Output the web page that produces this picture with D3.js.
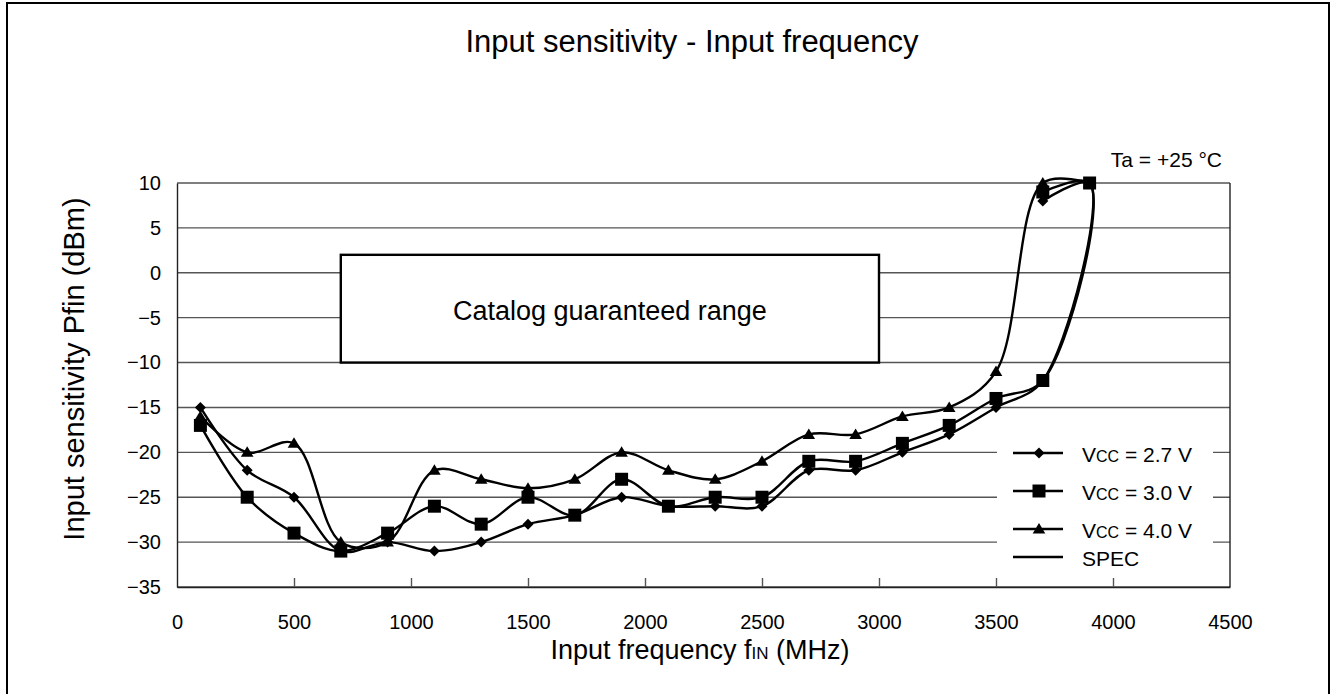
<!DOCTYPE html>
<html>
  <head>
    <meta charset="utf-8">
    <script src="https://d3js.org/d3.v7.min.js"></script>
    <style>
      body { margin: 0; background: #fff; }
      text { font-family: "Liberation Sans", Arial, sans-serif; fill: #000; }
    </style>
  </head>
  <body>
    <script type="text/javascript">

// frequency (MHz) of each measured point, in drawing order
var freqs   = [100, 300, 500, 700, 900, 1100, 1300, 1500, 1700, 1900, 2100, 2300, 2500, 2700, 2900, 3100, 3300, 3500, 3700, 3900, 3700];
var freqs40 = [100, 300, 500, 700, 900, 1100, 1300, 1500, 1700, 1900, 2100, 2300, 2500, 2700, 2900, 3100, 3300, 3500, 3700, 3900];

var vcc27 = [-15, -22, -25, -31, -30, -31, -30, -28, -27, -25, -26, -26, -26, -22, -22, -20, -18, -15, -12, 10, 8];
var vcc30 = [-17, -25, -29, -31, -29, -26, -28, -25, -27, -23, -26, -25, -25, -21, -21, -19, -17, -14, -12, 10, 9];
var vcc40 = [-16, -20, -19, -30, -30, -22, -23, -24, -23, -20, -22, -23, -21, -18, -18, -16, -15, -11, 10, 10];

// catalog guaranteed range (SPEC box)
var specFreq = [700, 3000];
var specPfin = [-10, 2];

var xTicks = d3.range(0, 4501, 500);
var yTicks = d3.range(-35, 11, 5);

var w = 1336, h = 694;

var svg = d3.select("body").append("svg")
    .attr("width", w)
    .attr("height", h);

// outer frame
svg.append("rect")
    .attr("x", 7).attr("y", 3)
    .attr("width", 1322).attr("height", 800)
    .attr("fill", "none")
    .attr("stroke", "#000")
    .attr("stroke-width", 2);

var x = d3.scaleLinear().domain([0, 4500]).range([177, 1230]);
var y = d3.scaleLinear().domain([-35, 10]).range([587, 183]);

// grid lines
svg.append("g").selectAll("line")
    .data(yTicks)
    .enter().append("line")
    .attr("x1", x(0)).attr("x2", x(4500))
    .attr("y1", function(d) { return y(d); })
    .attr("y2", function(d) { return y(d); })
    .attr("stroke", "#555")
    .attr("stroke-width", 1.4);

// plot border
svg.append("line")
    .attr("x1", x(4500)).attr("x2", x(4500))
    .attr("y1", y(10)).attr("y2", y(-35))
    .attr("stroke", "#222").attr("stroke-width", 1.4);

// x axis
var xAxis = svg.append("g")
    .attr("transform", "translate(0," + y(-35) + ")")
    .call(d3.axisBottom(x).tickValues(xTicks).tickFormat(d3.format("d"))
      .tickSizeInner(-9).tickSizeOuter(0).tickPadding(28));
xAxis.select(".domain").attr("stroke", "#222").attr("stroke-width", 1.4);
xAxis.selectAll(".tick line").attr("stroke", "#555").attr("stroke-width", 1.4);
xAxis.selectAll(".tick line").filter(function(d) { return d === 0 || d === 4500; }).remove();
xAxis.selectAll("text")
    .style("font-family", "'Liberation Sans', Arial, sans-serif")
    .style("font-size", "20px")
    .attr("fill", "#000");

// y axis
var yAxis = svg.append("g")
    .attr("transform", "translate(" + x(0) + ",0)")
    .call(d3.axisLeft(y).tickValues(yTicks).tickFormat(d3.format("d")).tickSize(0).tickPadding(16));
yAxis.select(".domain").attr("stroke", "#222").attr("stroke-width", 1.4);
yAxis.selectAll("text")
    .style("font-family", "'Liberation Sans', Arial, sans-serif")
    .style("font-size", "20px")
    .attr("fill", "#000");

// SPEC box
svg.append("rect")
    .attr("x", x(specFreq[0]))
    .attr("y", y(specPfin[1]))
    .attr("width", x(specFreq[1]) - x(specFreq[0]))
    .attr("height", y(specPfin[0]) - y(specPfin[1]))
    .attr("fill", "#fff")
    .attr("stroke", "#000")
    .attr("stroke-width", 2.4);

svg.append("text")
    .attr("x", (x(specFreq[0]) + x(specFreq[1])) / 2)
    .attr("y", y((specPfin[0] + specPfin[1]) / 2) + 11)
    .attr("text-anchor", "middle")
    .style("font-size", "27px")
    .text("Catalog guaranteed range");

// legend background (hides the grid behind it)
svg.append("rect")
    .attr("x", 997).attr("y", 428)
    .attr("width", 216).attr("height", 150)
    .attr("fill", "#fff");

// markers
function diamond(s) { return "M0," + (-s) + "L" + s + ",0L0," + s + "L" + (-s) + ",0Z"; }
function square(s) { return "M" + (-s) + "," + (-s) + "h" + (2 * s) + "v" + (2 * s) + "h" + (-2 * s) + "Z"; }
function triangle(s) { return "M0," + (-s) + "L" + (s * 1.05) + "," + (s * 0.75) + "L" + (-s * 1.05) + "," + (s * 0.75) + "Z"; }

var series = [
  { name: "2.7 V", f: freqs,   v: vcc27, mark: diamond(5.5) },
  { name: "3.0 V", f: freqs,   v: vcc30, mark: square(6.5) },
  { name: "4.0 V", f: freqs40, v: vcc40, mark: triangle(6) }
];

var line = d3.line()
    .x(function(d) { return x(d[0]); })
    .y(function(d) { return y(d[1]); })
    .curve(d3.curveCatmullRom.alpha(0.5));

series.forEach(function(s) {
  var pts = s.f.map(function(f, i) { return [f, s.v[i]]; });
  svg.append("path")
      .attr("d", line(pts))
      .attr("fill", "none")
      .attr("stroke", "#000")
      .attr("stroke-width", 2.4);
  svg.append("g").selectAll("path")
      .data(pts)
      .enter().append("path")
      .attr("transform", function(d) { return "translate(" + x(d[0]) + "," + y(d[1]) + ")"; })
      .attr("d", s.mark)
      .attr("fill", "#000");
});

// legend
var legRows = [453, 491, 529, 557];
var legend = svg.append("g");
series.concat([{ name: "SPEC", mark: null }]).forEach(function(s, i) {
  var ly = legRows[i];
  legend.append("line")
      .attr("x1", 1013).attr("x2", 1063)
      .attr("y1", ly).attr("y2", ly)
      .attr("stroke", "#000").attr("stroke-width", 2.4);
  var t = legend.append("text").attr("x", 1082).attr("y", ly + 9).style("font-size", "21px");
  if (s.mark) {
    legend.append("path")
        .attr("transform", "translate(1039," + ly + ")")
        .attr("d", s.mark)
        .attr("fill", "#000");
    t.append("tspan").text("V");
    t.append("tspan").style("font-size", "16px").text("CC");
    t.append("tspan").text(" = " + s.name);
  } else {
    t.text(s.name);
  }
});

// titles
svg.append("text")
    .attr("x", 692).attr("y", 52)
    .attr("text-anchor", "middle")
    .style("font-size", "31px")
    .text("Input sensitivity - Input frequency");

svg.append("text")
    .attr("x", 1222).attr("y", 167)
    .attr("text-anchor", "end")
    .style("font-size", "21px")
    .text("Ta = +25 \u00B0C");

var xt = svg.append("text")
    .attr("x", 700).attr("y", 659)
    .attr("text-anchor", "middle")
    .style("font-size", "27px");
xt.append("tspan").text("Input frequency f");
xt.append("tspan").style("font-size", "17px").text("IN");
xt.append("tspan").text(" (MHz)");

svg.append("text")
    .attr("transform", "translate(84,369) rotate(-90)")
    .attr("text-anchor", "middle")
    .style("font-size", "29px")
    .text("Input sensitivity Pfin (dBm)");

    </script>
  </body>
</html>
